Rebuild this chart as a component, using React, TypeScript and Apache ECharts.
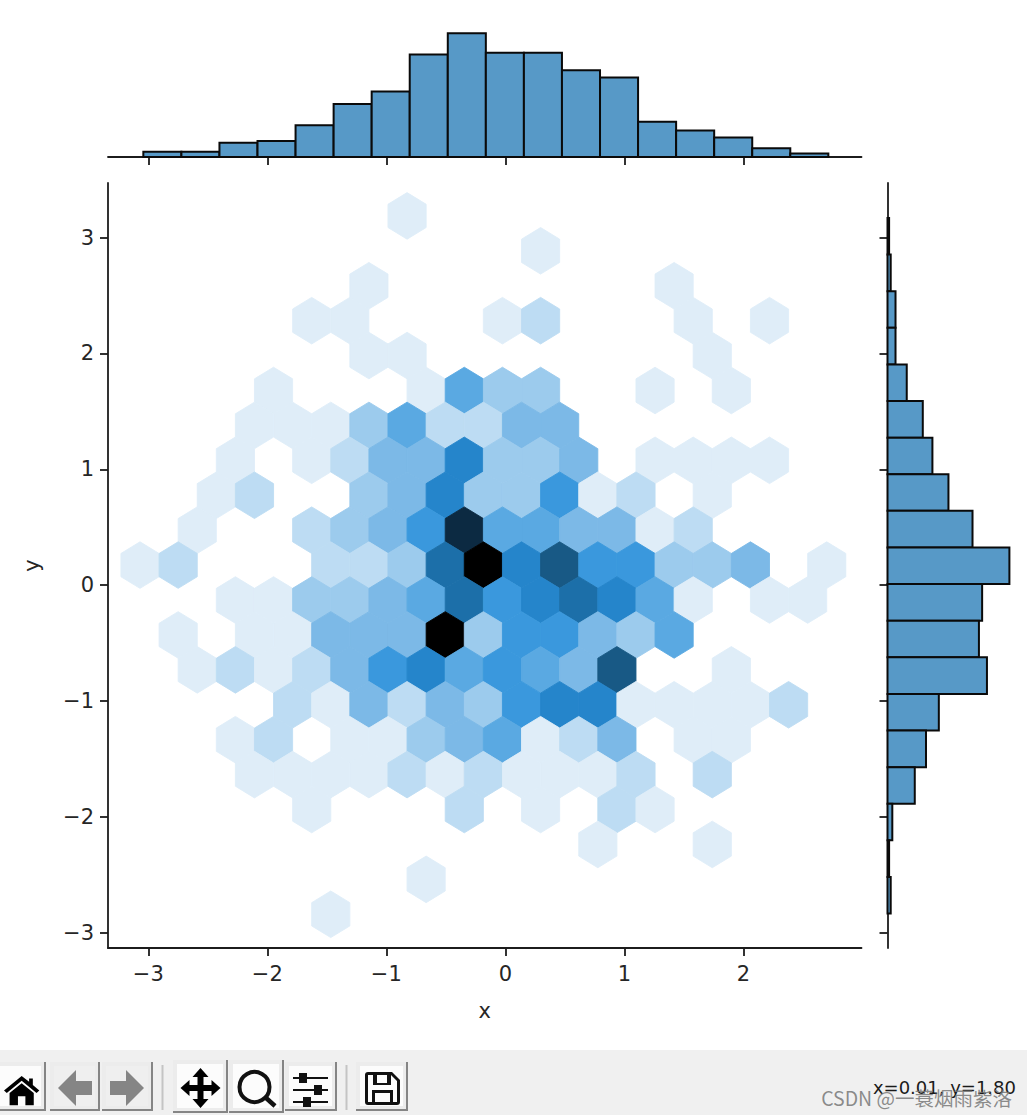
import React, { useEffect, useRef } from "react";
import * as echarts from "echarts";

const xTicks = [-3, -2, -1, 0, 1, 2];
const yTicks = [-3, -2, -1, 0, 1, 2, 3];
const xRange = [-3.339, 2.993];
const yRange = [-3.132, 3.471];
const xLabel = "x";
const yLabel = "y";
const statusText = "x=0.01, y=1.80";
const watermarkText = "CSDN @一蓑烟雨紫洛";

const xHistStart = -3.042;
const xHistWidth = 0.3198;
const xHistCounts = [3, 3, 8, 9, 18, 30, 37, 58, 70, 59, 59, 49, 45, 20, 15, 11, 5, 2];

const yHistTop = 3.169;
const yHistWidth = 0.316;
const yHistCounts = [1, 2, 5, 5, 12, 22, 28, 38, 53, 76, 59, 57, 62, 32, 24, 17, 3, 1, 2];

const hexFirstX = -3.07;
const hexStepX = 0.3206;
const hexFirstY = 3.187;
const hexStepY = 0.3014;
const hexCounts: number[][] = [
  [0, 0, 0, 0, 0, 0, 0, 1],
  [0, 0, 0, 0, 0, 0, 0, 0, 0, 0, 1],
  [0, 0, 0, 0, 0, 0, 1, 0, 0, 0, 0, 0, 0, 0, 1],
  [0, 0, 0, 0, 1, 1, 0, 0, 0, 1, 2, 0, 0, 0, 1, 0, 1],
  [0, 0, 0, 0, 0, 0, 1, 1, 0, 0, 0, 0, 0, 0, 0, 1],
  [0, 0, 0, 1, 0, 0, 0, 1, 5, 3, 3, 0, 0, 1, 0, 1],
  [0, 0, 0, 1, 1, 1, 3, 5, 2, 2, 4, 4],
  [0, 0, 1, 0, 1, 2, 4, 4, 7, 3, 3, 4, 0, 1, 1, 1, 1],
  [0, 0, 1, 2, 0, 0, 3, 4, 7, 3, 3, 6, 1, 2, 0, 1],
  [0, 1, 0, 0, 2, 3, 4, 6, 10, 5, 5, 4, 4, 1, 2],
  [1, 2, 0, 0, 0, 2, 2, 3, 8, 11, 7, 9, 6, 6, 3, 3, 4, 0, 1],
  [0, 0, 1, 1, 3, 3, 4, 5, 8, 6, 7, 8, 7, 5, 1, 0, 1, 1],
  [0, 1, 0, 1, 1, 4, 4, 4, 11, 3, 6, 6, 4, 3, 5],
  [0, 1, 2, 1, 2, 4, 6, 7, 5, 6, 5, 4, 9, 0, 0, 1],
  [0, 0, 0, 0, 2, 1, 4, 2, 4, 3, 6, 7, 7, 1, 1, 1, 1, 2],
  [0, 0, 1, 2, 0, 1, 1, 3, 4, 5, 1, 2, 4, 0, 1, 1],
  [0, 0, 0, 1, 1, 1, 1, 2, 1, 2, 1, 1, 1, 2, 0, 2],
  [0, 0, 0, 0, 1, 0, 0, 0, 2, 0, 1, 0, 2, 1],
  [0, 0, 0, 0, 0, 0, 0, 0, 0, 0, 0, 0, 1, 0, 0, 1],
  [0, 0, 0, 0, 0, 0, 0, 1],
  [0, 0, 0, 0, 0, 1],
];
const hexPalette = [
  "#ffffff", "#dfedf8", "#bddcf3", "#9ccbed", "#7cb9e7", "#5aa9e2",
  "#3a98dd", "#2585cb", "#1c6fa9", "#185985", "#0c2a42", "#000000",
];

const INK = "#1c1c1c";
const LINE = 1.8;
const FONT = "DejaVu Sans";

echarts.graphic.registerShape("tbHome", echarts.graphic.extendPath("M19 0 L27 7 V3 H31 V11 L38 18 L35 21 L19 6 L3 21 L0 18 Z M6 21 L19 9 L32 21 V36 H23 V25 H15 V36 H6 Z", {}));
echarts.graphic.registerShape("tbLeft", echarts.graphic.extendPath("M0 18 L18 0 V11 H34 V25 H18 V36 Z", {}));
echarts.graphic.registerShape("tbRight", echarts.graphic.extendPath("M34 18 L16 36 V25 H0 V11 H16 V0 Z", {}));
echarts.graphic.registerShape("tbMove", echarts.graphic.extendPath("M20 0 L28 9 H23 V17 H31 V12 L40 20 L31 28 V23 H23 V31 H28 L20 40 L12 31 H17 V23 H9 V28 L0 20 L9 12 V17 H17 V9 H12 Z", {}));
echarts.graphic.registerShape("tbSave", echarts.graphic.extendPath("M3 0 H27 L35 8 V30 Q35 33 32 33 H3 Q0 33 0 30 V3 Q0 0 3 0 Z M3 3 V30 H7 V18 H28 V30 H32 V9 L26 3 V13 H8 V3 Z M10 21 V30 H25 V21 Z M12 3 V11 H22 V3 Z", {}));

function button(x0: number, x1: number, y0: number, y1: number, face: string) {
  return [
    { type: "rect", silent: true, shape: { x: x0, y: y0, width: x1 - x0, height: y1 - y0 }, style: { fill: "#ececec" } },
    { type: "rect", silent: true, shape: { x: x0 + 4, y: y0 + 4, width: x1 - x0 - 9, height: y1 - y0 - 9 }, style: { fill: face } },
    { type: "polyline", silent: true, shape: { points: [[x1 - 1, y0], [x1 - 1, y1 - 1], [x0, y1 - 1]] }, style: { fill: "none", stroke: "#858585", lineWidth: 2 } },
  ];
}

function toolbar() {
  const dark = "#111111";
  const items: any[] = [
    { type: "rect", silent: true, shape: { x: 0, y: 1050, width: 1027, height: 65 }, style: { fill: "#f0f0f0" } },
    ...button(-4, 46, 1062, 1111, "#fcfcfc"),
    ...button(50, 100, 1062, 1111, "#efefef"),
    ...button(102, 153, 1062, 1111, "#efefef"),
    ...button(173, 228, 1060, 1113, "#fcfcfc"),
    ...button(229, 284, 1060, 1113, "#fcfcfc"),
    ...button(285, 337, 1062, 1111, "#fcfcfc"),
    ...button(356, 408, 1062, 1111, "#fcfcfc"),
    { type: "line", silent: true, shape: { x1: 162.5, y1: 1065, x2: 162.5, y2: 1110 }, style: { stroke: "#c4c4c4", lineWidth: 2 } },
    { type: "line", silent: true, shape: { x1: 346.5, y1: 1065, x2: 346.5, y2: 1110 }, style: { stroke: "#c4c4c4", lineWidth: 2 } },
    { type: "tbHome", silent: true, x: 4, y: 1076, scaleX: 0.93, scaleY: 0.81, style: { fill: "#000000" } },
    { type: "tbLeft", silent: true, x: 58, y: 1070, scaleX: 1, scaleY: 1, style: { fill: "#858585" } },
    { type: "tbRight", silent: true, x: 110, y: 1070, scaleX: 1, scaleY: 1, style: { fill: "#858585" } },
    { type: "tbMove", silent: true, x: 180.5, y: 1068, scaleX: 1, scaleY: 1, style: { fill: "#000000" } },
    { type: "circle", silent: true, shape: { cx: 254.5, cy: 1087, r: 15 }, style: { fill: "none", stroke: dark, lineWidth: 4 } },
    { type: "line", silent: true, shape: { x1: 265, y1: 1097, x2: 275, y2: 1106 }, style: { stroke: dark, lineWidth: 4.5 } },
    { type: "rect", silent: true, shape: { x: 293, y: 1077, width: 35, height: 2 }, style: { fill: dark } },
    { type: "rect", silent: true, shape: { x: 293, y: 1089, width: 35, height: 2 }, style: { fill: dark } },
    { type: "rect", silent: true, shape: { x: 293, y: 1101, width: 35, height: 2 }, style: { fill: dark } },
    { type: "rect", silent: true, shape: { x: 299, y: 1073, width: 8, height: 10 }, style: { fill: dark } },
    { type: "rect", silent: true, shape: { x: 314, y: 1085, width: 8, height: 10 }, style: { fill: dark } },
    { type: "rect", silent: true, shape: { x: 303, y: 1097, width: 8, height: 10 }, style: { fill: dark } },
    { type: "tbSave", silent: true, x: 365, y: 1072, scaleX: 1, scaleY: 1, style: { fill: dark } },
    { type: "text", silent: true, x: 1016, y: 1087, style: { text: statusText, fill: "#1a1a1a", font: `18px "${FONT}"`, textAlign: "right", textVerticalAlign: "middle" } },
    { type: "text", silent: true, x: 1012, y: 1097, style: { text: watermarkText, fill: "rgba(120,120,120,0.85)", font: `19.5px "Noto Sans CJK SC"`, textAlign: "right", textVerticalAlign: "middle" } },
  ];
  return items;
}

function renderHex(_: any, api: any) {
  const cx = api.value(0);
  const cy = api.value(1);
  const count = api.value(2);
  const w = hexStepX / 2;
  const h = (hexStepY * 4) / 3 / 2;
  const pts = [[w, h / 2], [0, h], [-w, h / 2], [-w, -h / 2], [0, -h], [w, -h / 2]].map(([dx, dy]) => api.coord([cx + dx, cy + dy]));
  const color = hexPalette[count];
  return { type: "polygon", shape: { points: pts }, style: { fill: color, stroke: color, lineWidth: 0.9 } };
}

const barStyle = { fill: "#5799c7", stroke: "#0a0a0a", lineWidth: 2 };

function renderTopBar(_: any, api: any) {
  const a = api.coord([api.value(0), api.value(2)]);
  const b = api.coord([api.value(1), 0]);
  return { type: "rect", shape: { x: a[0], y: a[1], width: b[0] - a[0], height: b[1] - a[1] }, style: barStyle };
}

function renderSideBar(_: any, api: any) {
  const a = api.coord([0, api.value(1)]);
  const b = api.coord([api.value(0), api.value(2)]);
  return { type: "rect", shape: { x: a[0], y: a[1], width: b[0] - a[0], height: b[1] - a[1] }, style: barStyle };
}

const minusLabel = (v: number) => String(v).replace("-", "\u2212");

export default function App() {
  const ref = useRef<HTMLDivElement>(null);
  useEffect(() => {
    const chart = echarts.init(ref.current!, undefined, { renderer: "svg" });

    const hexData: number[][] = [];
    hexCounts.forEach((row, r) => {
      row.forEach((count, k) => {
        if (count > 0) {
          hexData.push([hexFirstX + (k + (r % 2 ? 0.5 : 0)) * hexStepX, hexFirstY - r * hexStepY, count]);
        }
      });
    });
    const topData = xHistCounts.map((c, i) => [xHistStart + i * xHistWidth, xHistStart + (i + 1) * xHistWidth, c]);
    const sideData = yHistCounts.map((c, i) => [c, yHistTop - i * yHistWidth, yHistTop - (i + 1) * yHistWidth]);

    const axisLine = { show: true, onZero: false, lineStyle: { color: INK, width: LINE } };
    const tick = (vals: number[]) => ({ show: true, length: 8, customValues: vals, lineStyle: { color: INK, width: LINE } });
    const label = (vals: number[], margin: number) => ({ show: true, customValues: vals, formatter: minusLabel, color: "#262626", fontSize: 21, fontFamily: FONT, margin, hideOverlap: false, showMinLabel: true, showMaxLabel: true });

    chart.setOption({
      animation: false,
      backgroundColor: "#ffffff",
      grid: [
        { left: 108, top: 183, width: 753.5, height: 765 },
        { left: 108, top: 27, width: 753.5, height: 130 },
        { left: 887.5, top: 183, width: 128, height: 765 },
      ],
      xAxis: [
        { type: "value", gridIndex: 0, min: xRange[0], max: xRange[1], axisLine, axisTick: tick(xTicks), axisLabel: label(xTicks, 15), splitLine: { show: false }, name: xLabel, nameLocation: "middle", nameGap: 52, nameTextStyle: { color: "#262626", fontSize: 21, fontFamily: FONT } },
        { type: "value", gridIndex: 1, min: xRange[0], max: xRange[1], axisLine, axisTick: tick(xTicks), axisLabel: { show: false }, splitLine: { show: false } },
        { type: "value", gridIndex: 2, min: 0, max: 79.8, show: false },
      ],
      yAxis: [
        { type: "value", gridIndex: 0, min: yRange[0], max: yRange[1], axisLine, axisTick: tick(yTicks), axisLabel: label(yTicks, 14), splitLine: { show: false }, name: yLabel, nameLocation: "middle", nameGap: 66, nameTextStyle: { color: "#262626", fontSize: 21, fontFamily: FONT } },
        { type: "value", gridIndex: 1, min: 0, max: 73.5, show: false },
        { type: "value", gridIndex: 2, min: yRange[0], max: yRange[1], axisLine, axisTick: tick(yTicks), axisLabel: { show: false }, splitLine: { show: false } },
      ],
      series: [
        { type: "custom", xAxisIndex: 0, yAxisIndex: 0, data: hexData, encode: { x: 0, y: 1 }, renderItem: renderHex, clip: false },
        { type: "custom", xAxisIndex: 1, yAxisIndex: 1, data: topData, encode: { x: [0, 1], y: 2 }, renderItem: renderTopBar, clip: false },
        { type: "custom", xAxisIndex: 2, yAxisIndex: 2, data: sideData, encode: { x: 0, y: [1, 2] }, renderItem: renderSideBar, clip: false },
      ],
      graphic: { elements: toolbar() },
    });
    return () => chart.dispose();
  }, []);
  return <div ref={ref} style={{ position: "absolute", left: 0, top: 0, width: 1027, height: 1115 }} />;
}
